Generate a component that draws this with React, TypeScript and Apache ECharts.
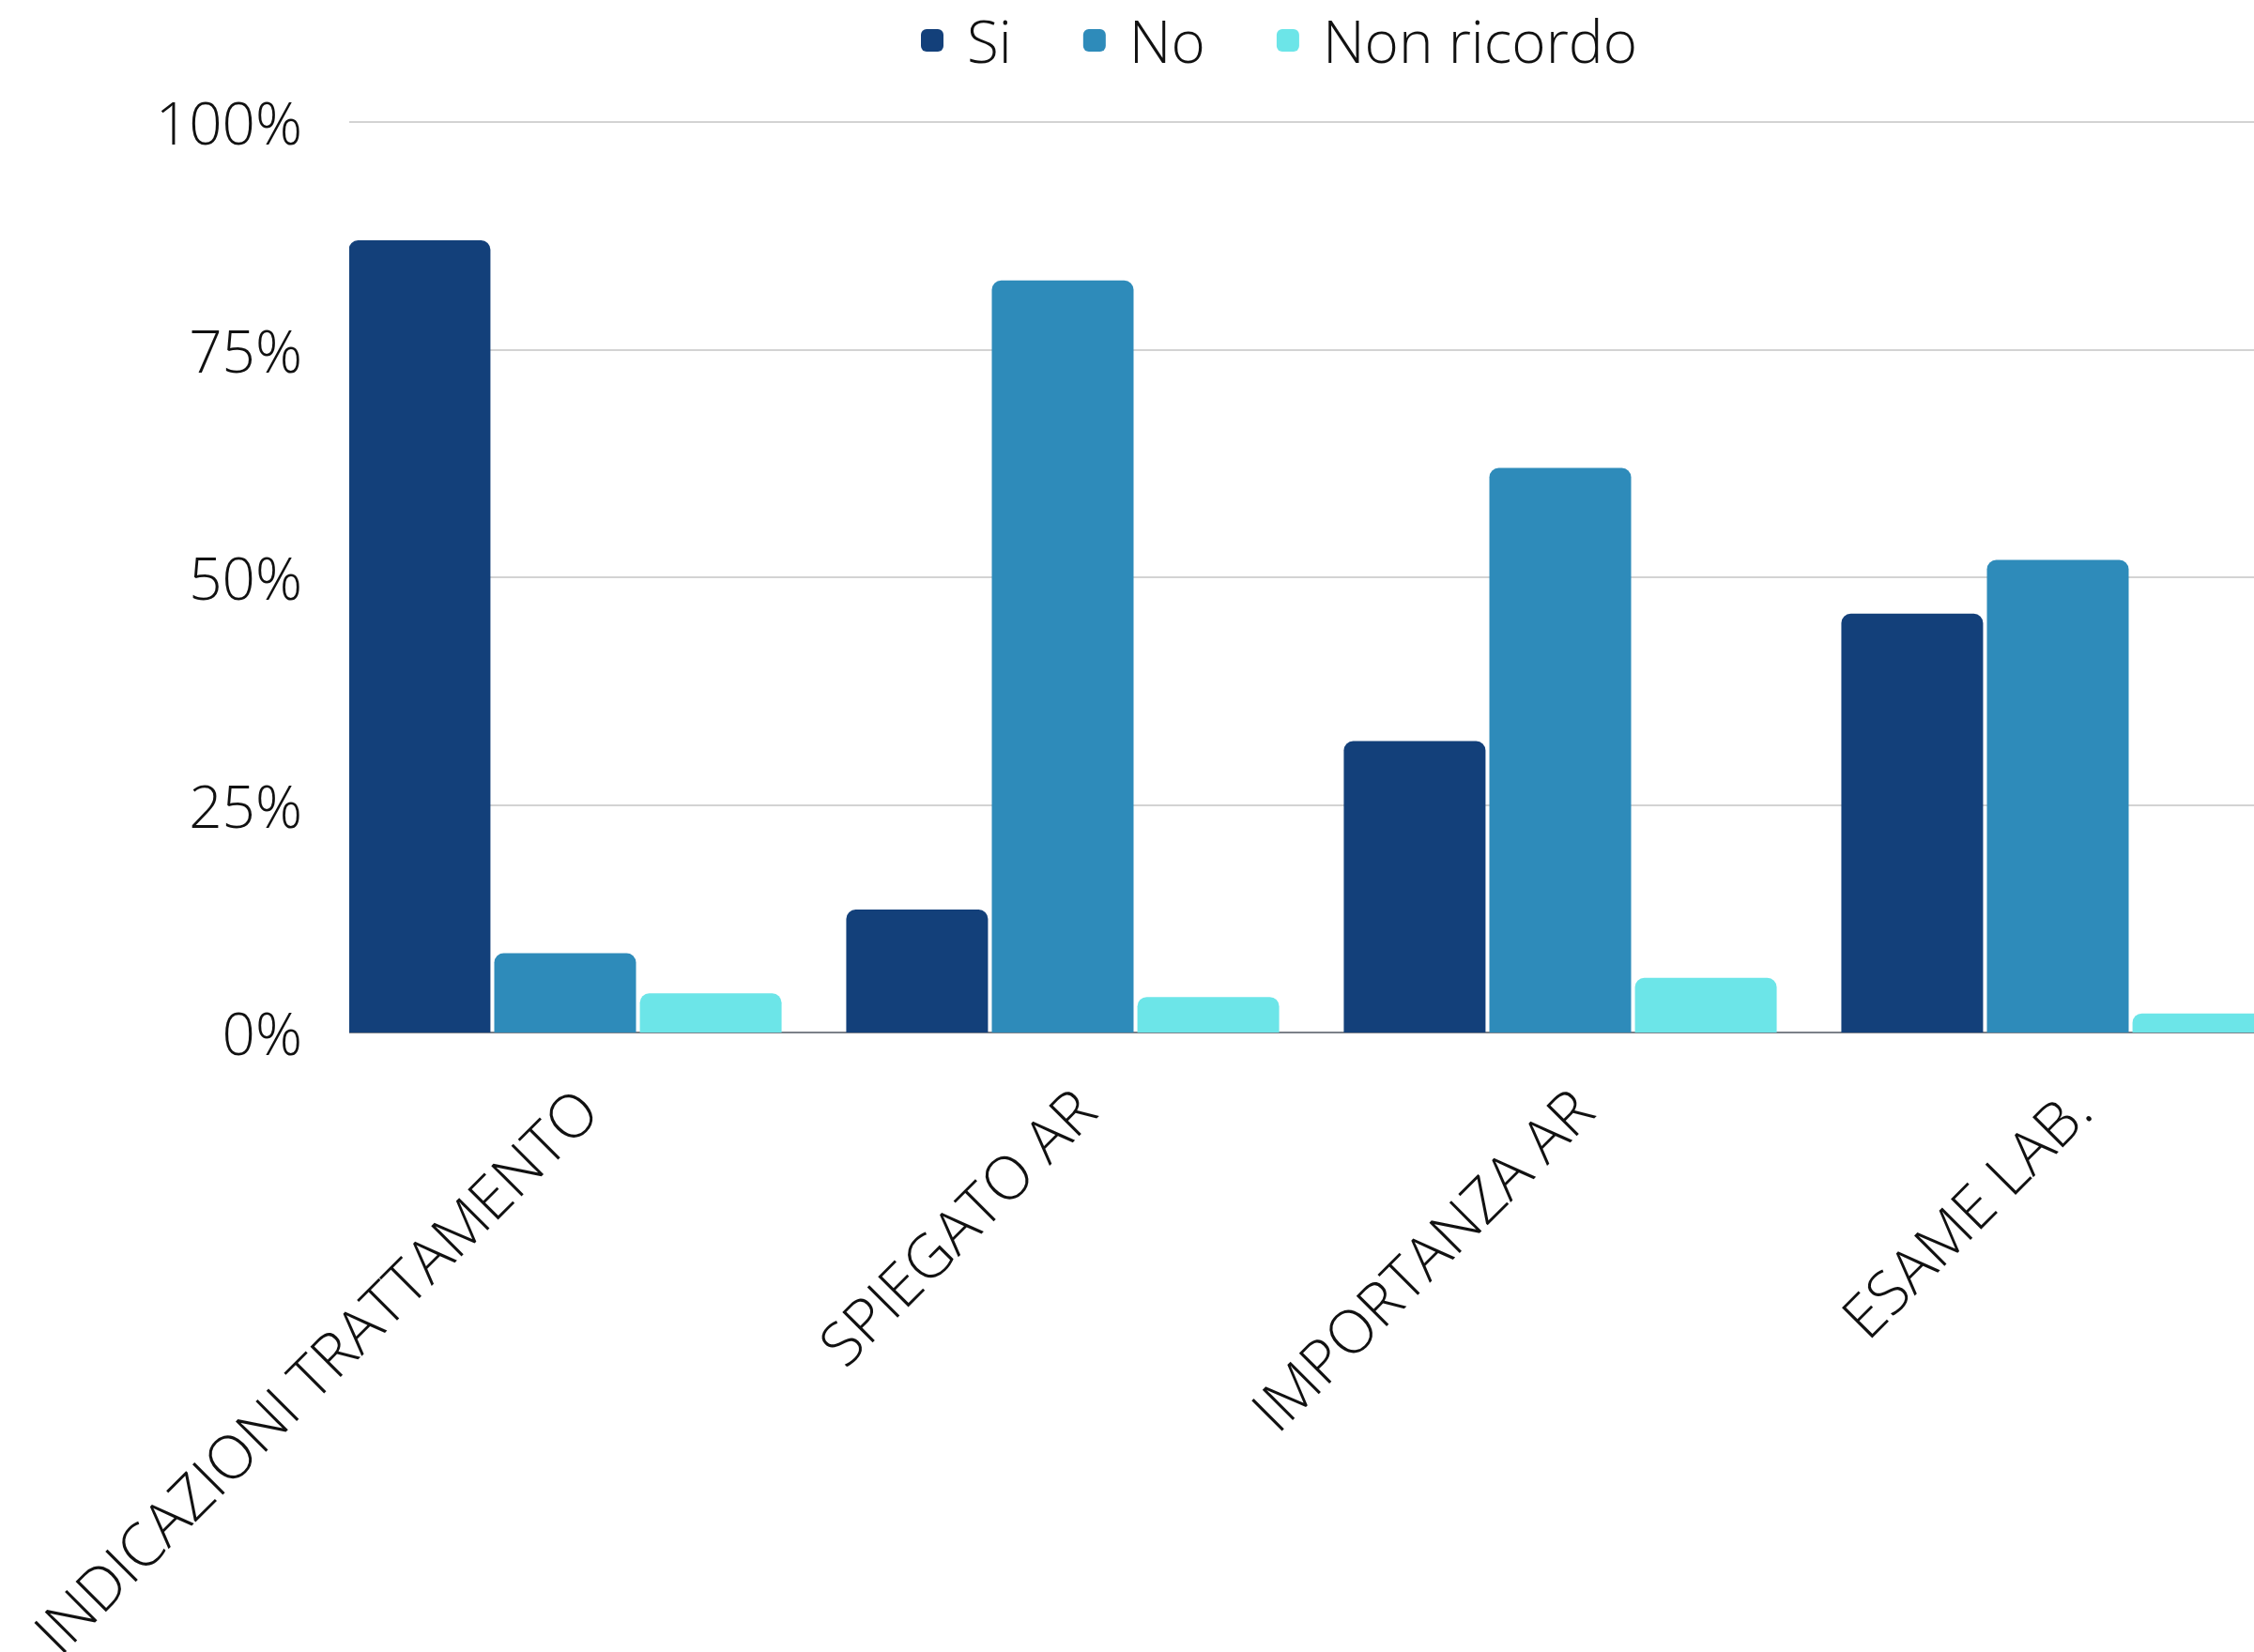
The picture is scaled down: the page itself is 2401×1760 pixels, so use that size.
import React, { useEffect, useRef } from "react";
import * as echarts from "echarts";

const categories = ["INDICAZIONI TRATTAMENTO", "SPIEGATO AR", "IMPORTANZA AR", "ESAME LAB."];
const seriesNames = ["Si", "No", "Non ricordo"];
const siValues = [87.0, 13.5, 32.0, 46.0];
const noValues = [8.7, 82.6, 62.0, 51.9];
const nonRicordoValues = [4.3, 3.9, 6.0, 2.1];
const yTicks = [0, 25, 50, 75, 100];

const colors = ["#13407A", "#2E8BBA", "#6CE5E8"];
const FONT = "'Open Sans', 'Noto Sans', sans-serif";

export default function App() {
  const ref = useRef<HTMLDivElement>(null);
  useEffect(() => {
    document.body.style.margin = "0";
    const chart = echarts.init(ref.current!, null, { renderer: "svg" });
    const data = [siValues, noValues, nonRicordoValues];
    chart.setOption({
      animation: false,
      backgroundColor: "#ffffff",
      textStyle: { fontFamily: FONT, fontWeight: 300 },
      legend: {
        left: 976,
        top: 7,
        itemWidth: 24,
        itemHeight: 24,
        itemGap: 76,
        icon: "roundRect",
        data: seriesNames,
        textStyle: {
          fontFamily: FONT,
          fontWeight: 300,
          fontSize: 62,
          color: "#111111",
          padding: [0, 0, 0, 20],
        },
      },
      grid: {
        left: 337,
        right: 0,
        top: 130,
        bottom: 660,
        containLabel: false,
        outerBoundsMode: "none",
      },
      xAxis: {
        type: "category",
        data: categories,
        axisLine: { show: true, lineStyle: { color: "#5f6670", width: 1.5 } },
        axisTick: { show: false },
        axisLabel: {
          interval: 0,
          rotate: 45,
          margin: 48,
          verticalAlign: "top",
          fontFamily: FONT,
          fontWeight: 300,
          fontSize: 64,
          color: "#111111",
        },
      },
      yAxis: {
        type: "value",
        min: yTicks[0],
        max: yTicks[yTicks.length - 1],
        interval: 25,
        axisLine: { show: false },
        axisTick: { show: false },
        splitLine: { lineStyle: { color: "#c4c4c4", width: 1.5 } },
        axisLabel: {
          margin: 15,
          fontFamily: FONT,
          fontWeight: 300,
          fontSize: 62,
          color: "#111111",
          formatter: (v: number) => `${v}%`,
        },
      },
      graphic: [
        {
          type: "rect",
          z: 100,
          shape: { x: 330, y: 110, width: 42, height: 1000 },
          style: { fill: "#ffffff" },
        },
      ],
      series: seriesNames.map((name, i) => ({
        name,
        type: "bar",
        data: data[i],
        barWidth: 151,
        barGap: "2.7%",
        itemStyle: { color: colors[i], borderRadius: [10, 10, 0, 0] },
      })),
    });
    return () => chart.dispose();
  }, []);
  return (
    <div style={{ position: "absolute", left: 0, top: 0, width: 2401, height: 1760, overflow: "hidden" }}>
      <div ref={ref} style={{ width: 2457, height: 1760 }} />
    </div>
  );
}
